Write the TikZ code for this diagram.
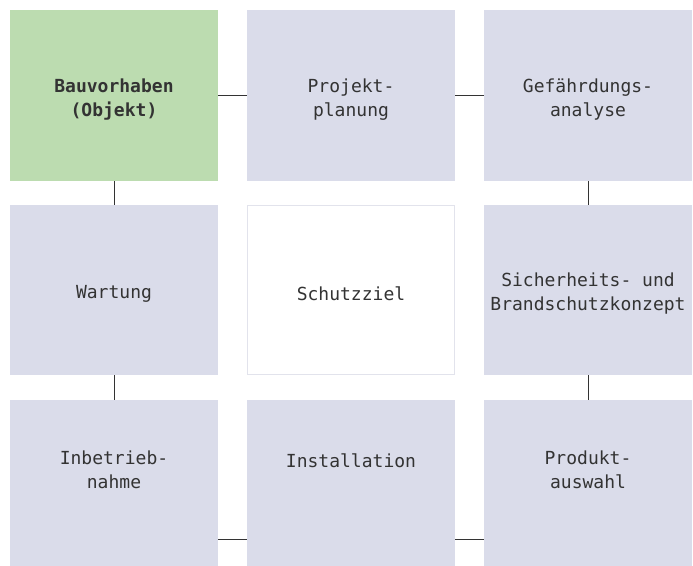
\documentclass[tikz,border=0pt]{standalone}
\usepackage{fontspec}
\setmonofont{DejaVu Sans Mono}
\definecolor{boxgray}{HTML}{DADCEA}
\definecolor{boxgreen}{HTML}{BCDCB0}
\definecolor{edgegray}{HTML}{E2E3EC}
\definecolor{inkgray}{HTML}{333333}
\tikzset{
    stage/.style={fill=boxgray, draw=none, minimum width=208pt, inner sep=0pt},
    stagetxt/.style={inner sep=0pt, align=center, text=inkgray,
        font=\ttfamily\fontsize{18}{24}\selectfont},
    link/.style={draw=inkgray, line width=0.9pt}
}
\begin{document}
\begin{tikzpicture}[x=1pt, y=-1pt]
            \useasboundingbox (0,0) rectangle (693,565);

            % top row
            \node[stage, fill=boxgreen, minimum height=171pt] (bau) at (114,95.5) {};
            \node[stage, minimum height=171pt] (plan) at (351,95.5) {};
            \node[stage, minimum height=171pt] (gef) at (588,95.5) {};

            % middle row
            \node[stage, minimum height=170pt] (wart) at (114,290) {};
            \node[stage, fill=white, draw=edgegray, line width=0.8pt, minimum width=207pt, minimum height=169pt] (ziel) at (351,290) {};
            \node[stage, minimum height=170pt] (konz) at (588,290) {};

            % bottom row
            \node[stage, minimum height=170pt] (inbetr) at (114,485) {};
            \node[stage, minimum height=170pt] (inst) at (351,485) {};
            \node[stage, minimum height=170pt] (prod) at (588,485) {};

            % texts
            \node[stagetxt] (bautxt) at (114,99.5) {\textbf{Bauvorhaben}\\\textbf{(Objekt)}};
            \node[stagetxt] (plantxt) at (351,99.5) {Projekt-\\planung};
            \node[stagetxt] (geftxt) at (588,99.5) {Gefährdungs-\\analyse};
            \node[stagetxt] (warttxt) at (114,294) {Wartung};
            \node[stagetxt] (zieltxt) at (351,294) {Schutzziel};
            \node[stagetxt] (konztxt) at (588,294) {Sicherheits- und\\Brandschutzkonzept};
            \node[stagetxt] (inbetrtxt) at (114,470) {Inbetrieb-\\nahme};
            \node[stagetxt] (insttxt) at (351,461) {Installation};
            \node[stagetxt] (prodtxt) at (588,470) {Produkt-\\auswahl};

            % connectors round the ring
            \draw[link] (bau.east) -- (plan.west);
            \draw[link] (plan.east) -- (gef.west);
            \draw[link] (gef.south) -- (konz.north);
            \draw[link] (konz.south) -- (prod.north);
            \draw[link] (prod.west |- 0,539) -- (inst.east |- 0,539);
            \draw[link] (inst.west |- 0,539) -- (inbetr.east |- 0,539);
            \draw[link] (inbetr.north) -- (wart.south);
            \draw[link] (wart.north) -- (bau.south);
        \end{tikzpicture}
\end{document}
